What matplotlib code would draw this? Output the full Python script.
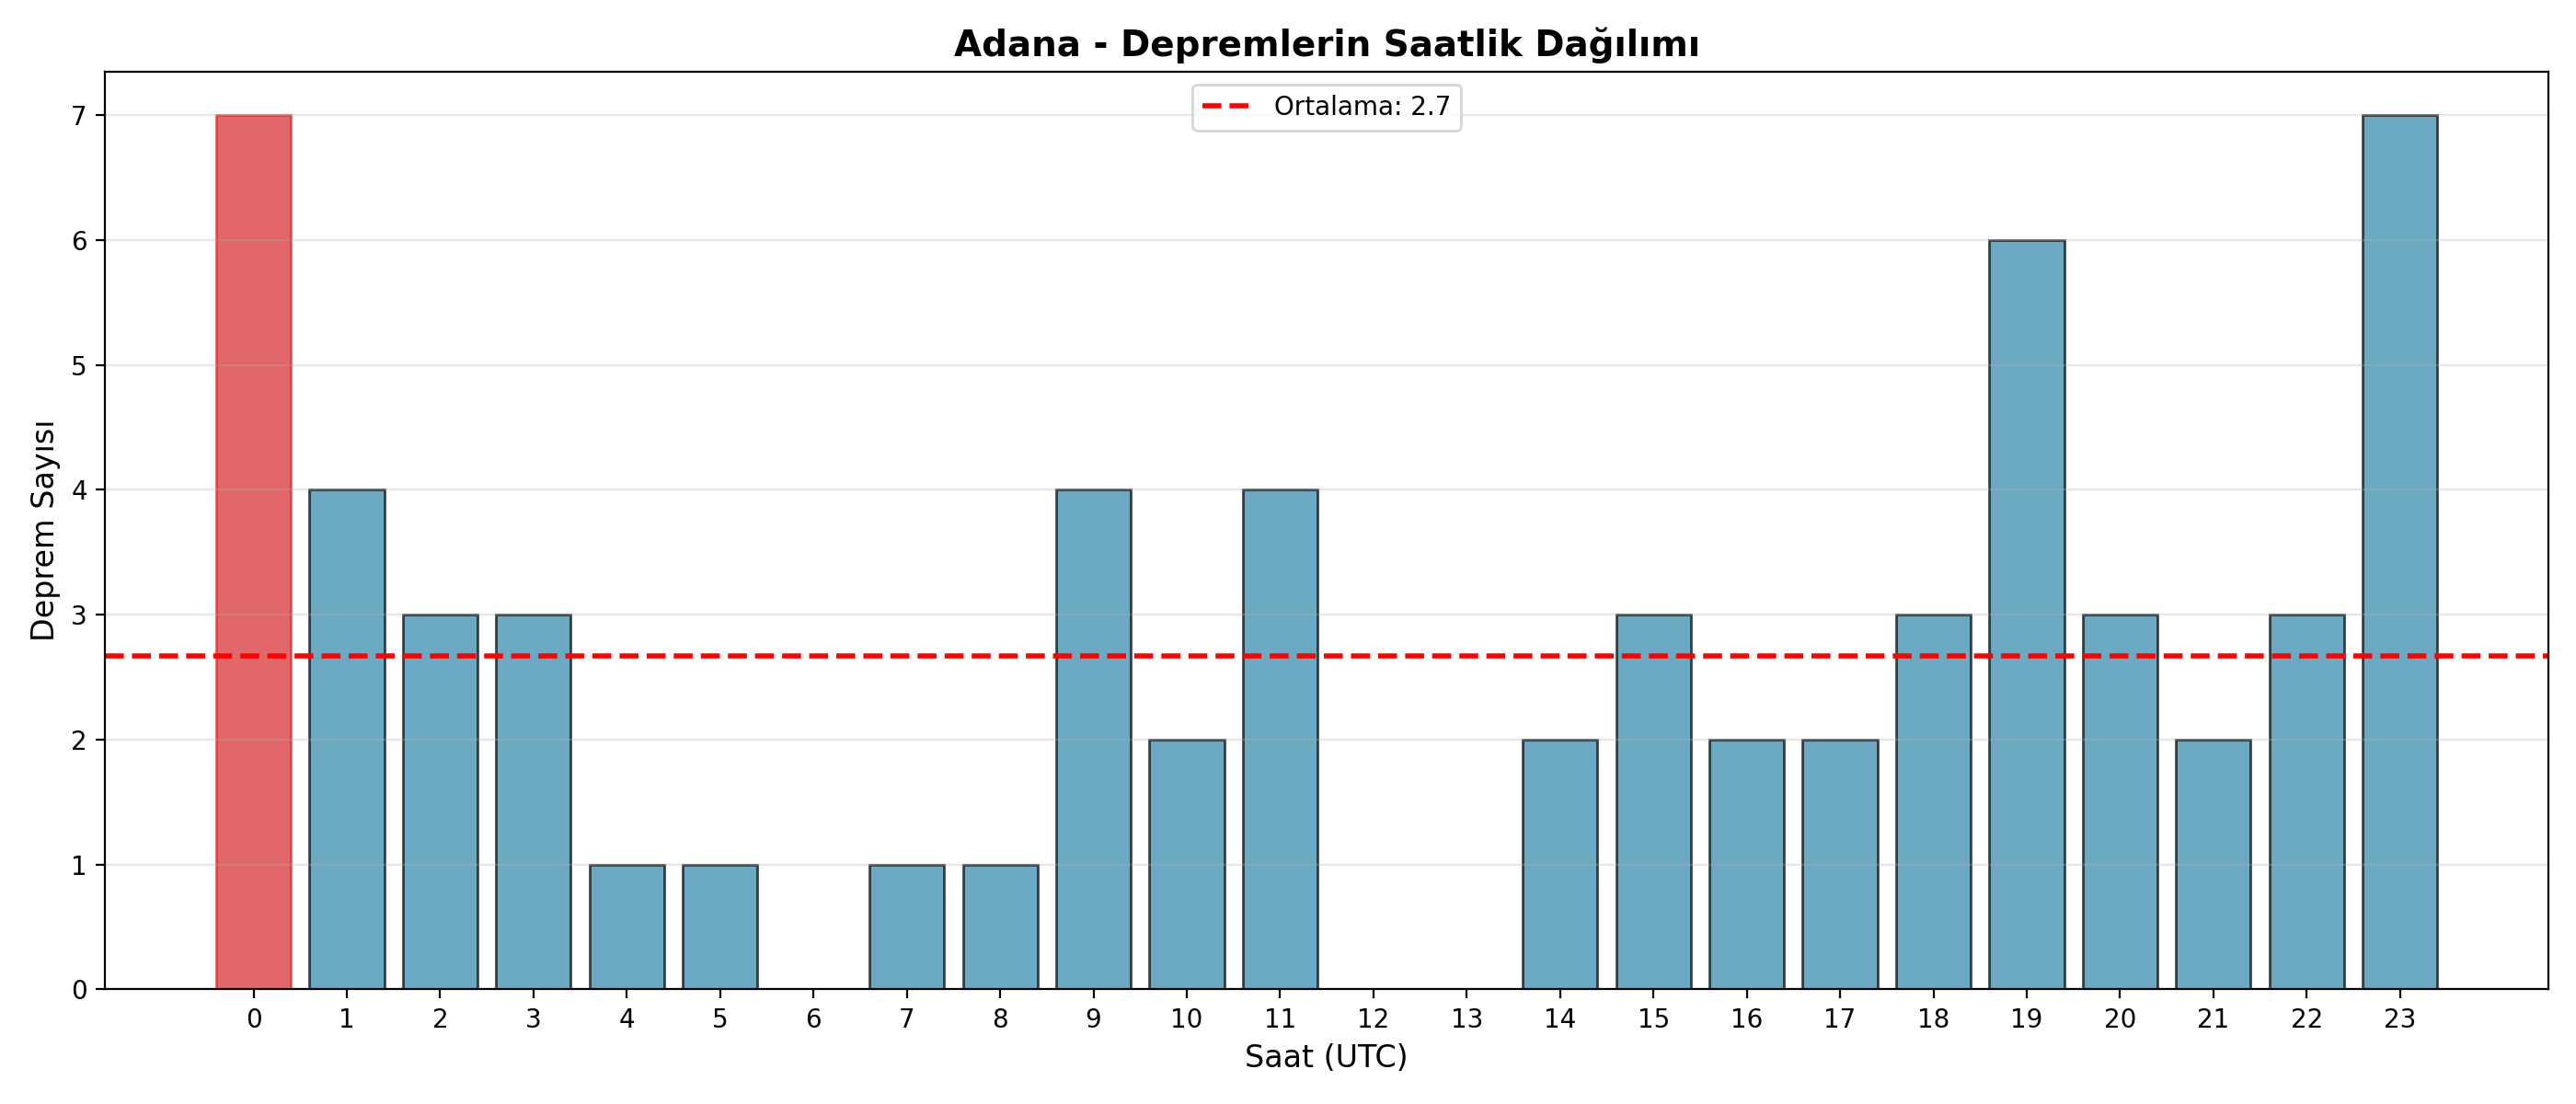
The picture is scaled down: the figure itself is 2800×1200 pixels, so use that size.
import numpy as np
import matplotlib
matplotlib.use("Agg")
import matplotlib.pyplot as plt

# hourly earthquake counts for Adana (UTC hours)
hours = list(range(24))
counts = [7, 4, 3, 3, 1, 1, 0, 1, 1, 4, 2, 4, 0, 0, 2, 3, 2, 2, 3, 6, 3, 2, 3, 7]
city = "Adana"


def main():
    fig, ax = plt.subplots(figsize=(14, 6))
    bars = ax.bar(hours, counts, color="#2E86AB", alpha=0.7, edgecolor="black")
    bars[int(np.argmax(counts))].set_color("#d62728")

    mean = np.mean(counts)
    ax.axhline(mean, color="red", linestyle="--", linewidth=2,
               label=f"Ortalama: {mean:.1f}")

    ax.set_title(f"{city} - Depremlerin Saatlik Dağılımı", fontsize=14, fontweight="bold")
    ax.set_xlabel("Saat (UTC)", fontsize=12)
    ax.set_ylabel("Deprem Sayısı", fontsize=12)
    ax.set_xticks(hours)
    ax.grid(axis="y", alpha=0.3)
    ax.legend(loc="upper center")
    fig.tight_layout()
    fig.savefig("out.png", dpi=200)


if __name__ == "__main__":
    main()
